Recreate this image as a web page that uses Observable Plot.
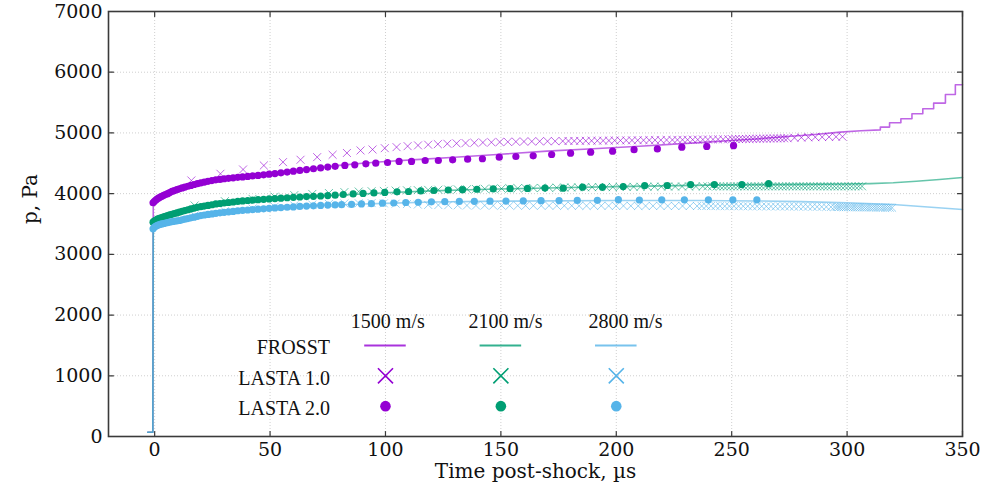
<!DOCTYPE html>
<html><head><meta charset="utf-8">
<script src="https://cdn.jsdelivr.net/npm/d3@7"></script>
<script src="https://cdn.jsdelivr.net/npm/@observablehq/plot@0.6"></script>
<style>body{margin:0;background:#fff}</style>
</head><body><div id="chart"></div>
<script>
// ---- axis ticks ----
const xTicks = [0, 50, 100, 150, 200, 250, 300, 350];
const yTicks = [0, 1000, 2000, 3000, 4000, 5000, 6000, 7000];

// ---- series metadata ----
const speeds = ["1500 m/s", "2100 m/s", "2800 m/s"];
const colors = ["#9400D3", "#009E73", "#56B4E9"];
const rowLabels = ["FROSST", "LASTA 1.0", "LASTA 2.0"];

// ---- FROSST (lines) ----
const frosstT1500 = [-3, -0.8, -0.6, 0, 1, 2, 4, 6, 8, 10, 14, 18, 22, 26, 30, 36, 42, 50, 60, 70, 80, 90, 100, 115, 130, 150, 170, 190, 210, 236, 250, 262, 274, 286, 297, 306, 314.4, 314.4, 318.4, 318.4, 323.3, 323.3, 328.1, 328.1, 332.8, 332.8, 337.5, 337.5, 342.6, 342.6, 346.9, 346.9, 350];
const frosstP1500 = [70, 70, 3850, 3880, 3910, 3935, 3975, 4010, 4045, 4070, 4120, 4160, 4195, 4225, 4245, 4270, 4295, 4320, 4370, 4415, 4465, 4500, 4530, 4565, 4600, 4650, 4700, 4740, 4780, 4840, 4875, 4905, 4940, 4975, 5013, 5035, 5050, 5096, 5096, 5168, 5168, 5233, 5233, 5316, 5316, 5398, 5398, 5491, 5491, 5633, 5633, 5793, 5793];
const frosstT2100 = [-3, -0.8, -0.6, 0, 2, 4, 7, 11, 15, 18, 22, 27, 32, 37, 44, 50, 62, 76, 90, 100, 120, 140, 160, 180, 200, 220, 240, 260, 280, 300, 310, 320, 330, 340, 350];
const frosstP2100 = [70, 70, 3530, 3560, 3600, 3625, 3660, 3700, 3740, 3770, 3800, 3830, 3855, 3875, 3897, 3914, 3942, 3970, 3995, 4015, 4045, 4068, 4085, 4100, 4115, 4128, 4140, 4148, 4152, 4158, 4165, 4180, 4205, 4232, 4265];
const frosstT2800 = [-3, -0.8, -0.6, 0, 2, 4, 7, 11, 15, 18, 22, 27, 32, 37, 44, 50, 62, 76, 90, 100, 120, 150, 200, 236, 260, 280, 300, 320, 335, 350];
const frosstP2800 = [70, 70, 3420, 3455, 3490, 3510, 3535, 3560, 3600, 3624, 3650, 3680, 3702, 3722, 3744, 3760, 3788, 3814, 3830, 3840, 3862, 3876, 3888, 3888, 3880, 3868, 3850, 3820, 3780, 3740];

// ---- LASTA 1.0 (crosses) ----
const lasta1T1500 = [15.9, 28.5, 38.3, 47.3, 55.6, 63.2, 70.4, 77.1, 83.3, 89.2, 94.4, 99.7, 104.8, 109.6, 114.1, 118.5, 122.7, 126.8, 130.8, 134.7, 138.5, 142.2, 145.9, 149.5, 153.0, 156.5, 160.0, 163.4, 166.8, 170.2, 173.5, 176.8, 179.3, 181.8, 184.3, 186.8, 189.3, 191.8, 194.3, 196.8, 199.3, 201.8, 204.3, 206.8, 209.3, 211.8, 214.3, 216.8, 219.3, 221.8, 224.3, 226.5, 228.7, 230.9, 233.1, 235.3, 237.5, 239.7, 241.9, 244.1, 246.3, 248.5, 250.2, 251.7, 253.2, 254.7, 256.2, 257.7, 259.2, 260.7, 262.2, 263.7, 265.2, 266.7, 268.2, 269.7, 271.2, 272.7, 274.2, 277.2, 280.2, 283.2, 286.2, 289.2, 292.2, 295.2, 298.0];
const lasta1P1500 = [4217, 4327, 4398, 4464, 4519, 4558, 4601, 4640, 4670, 4711, 4727, 4749, 4766, 4782, 4795, 4806, 4815, 4822, 4828, 4833, 4838, 4842, 4846, 4850, 4853, 4856, 4858, 4860, 4862, 4863, 4864, 4866, 4867, 4868, 4869, 4870, 4871, 4872, 4873, 4874, 4875, 4876, 4877, 4878, 4879, 4880, 4881, 4882, 4883, 4884, 4885, 4886, 4887, 4888, 4889, 4890, 4891, 4892, 4893, 4894, 4895, 4896, 4897, 4898, 4899, 4900, 4901, 4902, 4903, 4904, 4905, 4906, 4907, 4908, 4909, 4910, 4911, 4912, 4913, 4920, 4924, 4927, 4930, 4932, 4934, 4936, 4938];
const lasta1T2100 = [17.3, 30.4, 42.4, 52.0, 60.5, 68.3, 75.5, 82.2, 88.4, 94.0, 99.3, 104.4, 109.3, 114.0, 118.5, 122.9, 127.2, 131.3, 135.3, 139.2, 143.0, 146.7, 150.3, 153.8, 157.3, 160.7, 164.1, 167.5, 170.9, 174.2, 177.5, 180.5, 183.5, 186.5, 189.5, 192.5, 195.5, 198.5, 201.5, 204.5, 207.5, 210.5, 213.5, 216.5, 219.5, 222.5, 225.5, 228.5, 231.5, 234.5, 237.5, 239.5, 241.5, 243.5, 245.0, 246.5, 248.0, 249.5, 251.0, 252.5, 254.0, 255.5, 257.0, 258.5, 260.0, 261.5, 263.0, 264.5, 266.0, 267.5, 269.0, 270.5, 272.0, 273.5, 275.0, 276.5, 278.0, 279.5, 281.0, 282.5, 284.0, 285.5, 287.0, 288.5, 290.0, 291.5, 293.0, 294.5, 296.0, 297.5, 299.0, 300.5, 302.0, 303.5, 305.0, 306.5];
const lasta1P2100 = [3805, 3876, 3914, 3950, 3975, 3995, 4010, 4025, 4035, 4040, 4045, 4050, 4055, 4058, 4062, 4065, 4068, 4071, 4074, 4077, 4080, 4082, 4084, 4086, 4088, 4090, 4092, 4094, 4096, 4098, 4100, 4102, 4104, 4105, 4106, 4107, 4108, 4109, 4110, 4111, 4112, 4113, 4114, 4115, 4116, 4117, 4118, 4118, 4119, 4119, 4120, 4120, 4120, 4120, 4120, 4120, 4120, 4120, 4120, 4120, 4121, 4120, 4121, 4120, 4119, 4120, 4121, 4120, 4119, 4120, 4121, 4120, 4119, 4120, 4121, 4120, 4119, 4120, 4121, 4120, 4119, 4120, 4121, 4120, 4119, 4120, 4121, 4120, 4119, 4120, 4121, 4120, 4119, 4120, 4121, 4120];
const lasta1T2800 = [17.3, 30.4, 42.4, 52.0, 60.5, 68.3, 75.5, 82.2, 88.4, 94.0, 99.3, 104.4, 109.3, 114.0, 118.5, 122.9, 127.2, 131.3, 135.3, 139.2, 143.0, 146.7, 150.3, 153.8, 157.3, 160.7, 164.1, 167.5, 170.9, 174.2, 177.5, 180.7, 183.9, 187.1, 190.3, 193.5, 196.7, 199.9, 203.1, 206.3, 209.5, 212.7, 215.9, 219.1, 222.3, 225.5, 228.7, 231.9, 235.0, 237.0, 239.0, 241.0, 243.0, 245.0, 247.0, 249.0, 251.0, 253.0, 255.0, 257.0, 259.0, 261.0, 263.0, 265.0, 267.0, 269.0, 271.0, 273.0, 275.0, 277.0, 279.0, 281.0, 283.0, 285.0, 287.0, 289.0, 291.0, 293.0, 294.5, 295.5, 296.5, 297.5, 298.5, 299.5, 300.5, 301.5, 302.5, 303.5, 304.5, 305.5, 306.5, 307.5, 308.5, 309.5, 310.5, 311.5, 312.5, 313.5, 314.5, 315.5, 316.5, 317.5, 318.5, 319.5];
const lasta1P2800 = [3640, 3710, 3755, 3785, 3805, 3820, 3830, 3838, 3842, 3844, 3840, 3835, 3828, 3820, 3815, 3812, 3810, 3808, 3806, 3805, 3805, 3804, 3804, 3803, 3803, 3803, 3802, 3802, 3802, 3801, 3801, 3801, 3800, 3800, 3800, 3800, 3799, 3799, 3799, 3799, 3798, 3798, 3798, 3798, 3797, 3797, 3797, 3797, 3796, 3796, 3796, 3795, 3795, 3795, 3794, 3794, 3794, 3793, 3793, 3793, 3792, 3792, 3791, 3791, 3790, 3790, 3789, 3789, 3788, 3788, 3787, 3786, 3786, 3785, 3784, 3783, 3782, 3781, 3780, 3780, 3779, 3779, 3778, 3778, 3777, 3777, 3776, 3776, 3775, 3775, 3774, 3774, 3773, 3773, 3772, 3772, 3771, 3771, 3770, 3770, 3769, 3769, 3768, 3768];

// ---- LASTA 2.0 (dots) ----
const lasta2T1500 = [-0.7, -0.2, 0.4, 1.0, 1.7, 2.4, 3.1, 3.9, 4.7, 5.6, 6.5, 7.5, 8.5, 9.6, 10.7, 11.9, 13.1, 14.4, 15.7, 17.1, 18.5, 20.0, 21.5, 23.1, 24.8, 26.5, 28.3, 30.1, 32.0, 34.0, 36.0, 38.1, 40.3, 42.5, 44.8, 47.2, 49.6, 52.1, 54.7, 57.4, 60.1, 62.9, 65.8, 68.8, 71.9, 75.0, 78.2, 82.4, 86.7, 91.5, 95.8, 100.9, 105.9, 111.3, 117.2, 122.9, 129.1, 135.6, 142.0, 149.3, 156.5, 164.0, 172.0, 180.2, 188.9, 198.4, 207.7, 217.8, 228.4, 239.2, 250.8];
const lasta2P1500 = [3850, 3870, 3890, 3910, 3928, 3943, 3957, 3972, 3986, 4000, 4018, 4036, 4051, 4065, 4080, 4094, 4108, 4122, 4136, 4151, 4165, 4178, 4191, 4203, 4216, 4227, 4235, 4245, 4253, 4261, 4268, 4276, 4283, 4292, 4300, 4310, 4320, 4330, 4343, 4356, 4370, 4382, 4396, 4410, 4424, 4437, 4450, 4464, 4475, 4491, 4502, 4513, 4530, 4530, 4546, 4546, 4557, 4568, 4575, 4601, 4612, 4623, 4645, 4667, 4683, 4700, 4725, 4736, 4766, 4777, 4790];
const lasta2T2100 = [-0.7, -0.2, 0.4, 1.0, 1.7, 2.4, 3.1, 3.9, 4.7, 5.6, 6.5, 7.5, 8.5, 9.6, 10.7, 11.9, 13.1, 14.4, 15.7, 17.1, 18.5, 20.0, 21.5, 23.1, 24.8, 26.5, 28.3, 30.1, 32.0, 34.0, 36.0, 38.1, 40.3, 42.5, 44.8, 47.2, 49.6, 52.1, 54.7, 57.4, 60.1, 62.9, 65.8, 68.8, 71.9, 75.0, 78.2, 81.7, 86.0, 90.3, 95.0, 99.7, 105.0, 110.0, 115.3, 121.0, 127.2, 133.4, 139.6, 146.7, 154.0, 161.5, 169.1, 177.0, 185.4, 194.0, 203.0, 212.3, 222.1, 232.2, 242.5, 254.4, 266.0];
const lasta2P2100 = [3530, 3548, 3562, 3575, 3588, 3598, 3606, 3616, 3627, 3638, 3649, 3660, 3671, 3683, 3695, 3708, 3721, 3735, 3748, 3762, 3774, 3785, 3796, 3806, 3817, 3830, 3838, 3846, 3854, 3862, 3872, 3880, 3887, 3893, 3900, 3906, 3913, 3919, 3926, 3932, 3939, 3945, 3951, 3956, 3961, 3968, 3975, 3986, 3995, 4003, 4012, 4020, 4030, 4035, 4045, 4052, 4060, 4066, 4072, 4079, 4082, 4086, 4091, 4090, 4107, 4107, 4118, 4134, 4134, 4151, 4151, 4151, 4165];
const lasta2T2800 = [-0.7, -0.2, 0.4, 1.0, 1.7, 2.4, 3.1, 3.9, 4.7, 5.6, 6.5, 7.5, 8.5, 9.6, 10.7, 11.9, 13.1, 14.4, 15.7, 17.1, 18.5, 20.0, 21.5, 23.1, 24.8, 26.5, 28.3, 30.1, 32.0, 34.0, 36.0, 38.1, 40.3, 42.5, 44.8, 47.2, 49.6, 52.1, 54.7, 57.4, 60.1, 62.9, 65.8, 68.8, 71.9, 75.0, 78.2, 81.0, 85.3, 89.6, 93.9, 98.7, 103.6, 108.8, 114.2, 119.9, 125.7, 132.0, 138.5, 145.3, 152.2, 159.7, 167.4, 175.2, 183.1, 191.8, 200.9, 210.0, 219.7, 229.5, 239.9, 250.5, 260.9];
const lasta2P2800 = [3420, 3445, 3462, 3475, 3486, 3495, 3501, 3508, 3516, 3524, 3532, 3538, 3544, 3551, 3558, 3568, 3579, 3590, 3601, 3613, 3626, 3638, 3648, 3657, 3666, 3676, 3684, 3692, 3700, 3707, 3718, 3725, 3731, 3738, 3744, 3750, 3758, 3764, 3770, 3776, 3782, 3789, 3795, 3800, 3806, 3812, 3816, 3818, 3822, 3830, 3835, 3843, 3846, 3854, 3858, 3866, 3868, 3872, 3874, 3876, 3878, 3880, 3885, 3886, 3888, 3890, 3900, 3895, 3898, 3898, 3898, 3898, 3898];

// ---- legend placement (in data coordinates, as in the original figure) ----
const legendCols = [100, 150, 200];
const legendHeadX = [101, 152, 204];
const legendHeadP = 1900;
const legendRowP = [1500, 1000, 500];
const legendLabelT = 76;

const rows = (T, P) => T.map((t, i) => ({t, p: P[i]}));
const series = [
  {f: rows(frosstT1500, frosstP1500), l1: rows(lasta1T1500, lasta1P1500), l2: rows(lasta2T1500, lasta2P1500)},
  {f: rows(frosstT2100, frosstP2100), l1: rows(lasta1T2100, lasta1P2100), l2: rows(lasta2T2100, lasta2P2100)},
  {f: rows(frosstT2800, frosstP2800), l1: rows(lasta1T2800, lasta1P2800), l2: rows(lasta2T2800, lasta2P2800)}
];

const tickShape = {draw(ctx, l) { ctx.moveTo(0, 0); ctx.lineTo(0, -l); }};
const frameColor = "#3a3a3a";
const serif = "DejaVu Serif";
const legendFont = "Liberation Serif";
const plain = d => String(d);

const marks = [
  Plot.gridX(xTicks, {stroke: "#cfcfcf", strokeOpacity: 1, strokeDasharray: "1,2"}),
  Plot.gridY(yTicks, {stroke: "#cfcfcf", strokeOpacity: 1, strokeDasharray: "1,2"})
];
series.forEach((s, i) => {
  marks.push(Plot.dot(s.l1, {x: "t", y: "p", symbol: "times", r: 3.7, stroke: colors[i], strokeWidth: 1, strokeOpacity: 0.6}));
});
series.forEach((s, i) => {
  marks.push(Plot.line(s.f, {x: "t", y: "p", stroke: colors[i], strokeWidth: 1.6, strokeOpacity: 0.6}));
});
series.forEach((s, i) => {
  marks.push(Plot.dot(s.l2, {x: "t", y: "p", r: 3.6, fill: colors[i]}));
});
// legend
marks.push(Plot.text(speeds, {x: (d, i) => legendHeadX[i], y: legendHeadP, text: d => d, fontFamily: legendFont, fontSize: 20, fill: "#111"}));
marks.push(Plot.text(rowLabels, {x: legendLabelT, y: (d, i) => legendRowP[i], text: d => d, textAnchor: "end", dy: 2.5, fontFamily: legendFont, fontSize: 20, fill: "#111"}));
colors.forEach((c, i) => {
  marks.push(Plot.ruleY([legendRowP[0]], {y: d => d, x1: legendCols[i] - 9, x2: legendCols[i] + 9, stroke: c, strokeWidth: 2, strokeOpacity: 0.8}));
  marks.push(Plot.dot([legendCols[i]], {x: d => d, y: legendRowP[1], symbol: "times", r: 6.9, stroke: c, strokeWidth: 1.6}));
  marks.push(Plot.dot([legendCols[i]], {x: d => d, y: legendRowP[2], r: 5.3, fill: c}));
});
// frame, axes, inward ticks
marks.push(
  Plot.frame({stroke: frameColor, strokeWidth: 1.6}),
  Plot.axisX(xTicks, {anchor: "bottom", tickSize: 0, tickPadding: 6, tickFormat: plain, fontSize: 19, fontFamily: serif, fill: "#111", label: null}),
  Plot.axisY(yTicks, {anchor: "left", tickSize: 0, tickPadding: 6, tickFormat: plain, fontSize: 19, fontFamily: serif, fill: "#111", label: null}),
  Plot.vector(xTicks, {x: d => d, frameAnchor: "bottom", rotate: 0, length: 5, anchor: "start", shape: tickShape, stroke: frameColor, strokeWidth: 1.2}),
  Plot.vector(xTicks, {x: d => d, frameAnchor: "top", rotate: 180, length: 5, anchor: "start", shape: tickShape, stroke: frameColor, strokeWidth: 1.2}),
  Plot.vector(yTicks, {y: d => d, frameAnchor: "left", rotate: 90, length: 5, anchor: "start", shape: tickShape, stroke: frameColor, strokeWidth: 1.2}),
  Plot.vector(yTicks, {y: d => d, frameAnchor: "right", rotate: -90, length: 5, anchor: "start", shape: tickShape, stroke: frameColor, strokeWidth: 1.2}),
  Plot.text(["Time post-shock, µs"], {frameAnchor: "bottom", dy: 41, fontSize: 20, fontFamily: serif, fill: "#111"}),
  Plot.text(["p, Pa"], {frameAnchor: "left", dx: -78, rotate: -90, fontSize: 20, fontFamily: serif, fill: "#111"})
);

const chart = Plot.plot({
  width: 989,
  height: 497,
  marginTop: 11,
  marginRight: 27,
  marginBottom: 61,
  marginLeft: 108,
  style: {fontFamily: serif, background: "#fff", color: "#111"},
  x: {domain: [-20, 350]},
  y: {domain: [0, 7000]},
  marks
});
document.getElementById("chart").appendChild(chart);
</script>
</body></html>
